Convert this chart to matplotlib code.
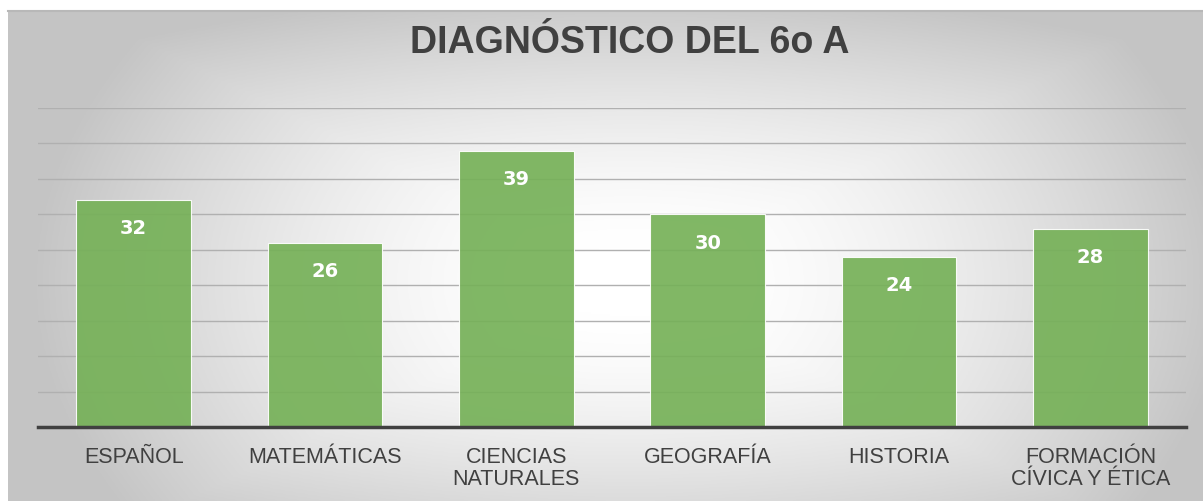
import numpy as np
import matplotlib
matplotlib.use("Agg")
import matplotlib.pyplot as plt

categories = ["ESPAÑOL", "MATEMÁTICAS", "CIENCIAS\nNATURALES", "GEOGRAFÍA", "HISTORIA", "FORMACIÓN\nCÍVICA Y ÉTICA"]
values = [32, 26, 39, 30, 24, 28]
title = "DIAGNÓSTICO DEL 6o A"

plt.rcParams['font.family'] = ['Liberation Sans', 'DejaVu Sans']

W, H = 1203, 502
fig = plt.figure(figsize=(W / 100, H / 100), dpi=100)
fig.patch.set_facecolor('white')

# background gradient panel
bg = fig.add_axes([8 / W, 0, 1 - 8 / W, 1 - 12 / H])
bg.set_axis_off()
ny, nx = 245, 600
yy, xx = np.mgrid[0:ny, 0:nx]
dx = (xx - nx * 0.52) / (nx * 0.5)
dy = (yy - ny * 0.55) / (ny * 0.6)
t = np.clip(np.maximum(np.abs(dx), np.abs(dy)) * 0.5 + np.sqrt(dx**2 + dy**2) * 0.5, 0, 1)
t = np.clip((t - 0.12) / 0.88, 0, 1)
g = 1.0 - (1.0 - 0.77) * t ** 1.5
img = np.dstack([g, g, g])
bg.imshow(img, aspect='auto', extent=[0, 1, 0, 1], origin='upper')
bg.set_xlim(0, 1)
bg.set_ylim(0, 1)
bg.plot([0, 1], [1, 1], color='#b8b8b8', lw=1.5, transform=bg.transAxes, clip_on=False)

ax = fig.add_axes([38 / W, (H - 428) / H, (1186 - 38) / W, (428 - 109) / H])
ax.patch.set_alpha(0)
x = np.arange(len(categories))
bars = ax.bar(x, values, width=0.6, color='#76b158', alpha=0.92, edgecolor='white',
              linewidth=0.8, zorder=3)
ax.set_xlim(-0.5, len(categories) - 0.5)
ax.set_ylim(0, 45)
ax.set_yticks(np.arange(0, 46, 5))
ax.yaxis.grid(True, color='#b0b0b0', linewidth=1.0, zorder=0)
ax.set_axisbelow(True)
ax.tick_params(axis='y', left=False, labelleft=False)
ax.tick_params(axis='x', bottom=False, labelsize=15.5, labelcolor='#404040', pad=10)
ax.set_xticks(x)
ax.set_xticklabels(categories, linespacing=1.1)
for s in ['top', 'right', 'left']:
    ax.spines[s].set_visible(False)
ax.spines['bottom'].set_color('#404040')
ax.spines['bottom'].set_linewidth(2.5)
ax.spines['bottom'].set_zorder(4)

for b, v in zip(bars, values):
    ax.annotate(str(v), (b.get_x() + b.get_width() / 2, v), xytext=(0, -20),
                textcoords='offset points', ha='center', va='center',
                color='white', fontsize=14, fontweight='bold', zorder=5,
                family=['DejaVu Sans'])

fig.text(630 / W, 1 - 43 / H, title, ha='center', va='center', fontsize=27,
         fontweight='bold', color='#404040')

fig.savefig('out.png', dpi=100)
